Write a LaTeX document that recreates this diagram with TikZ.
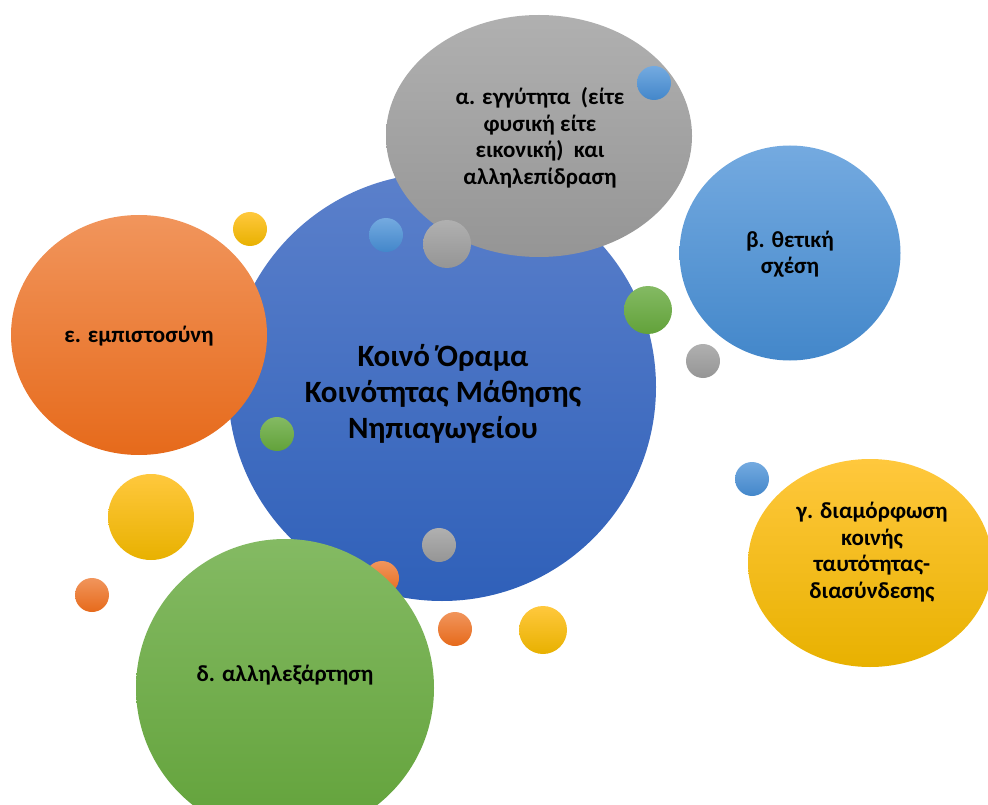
\documentclass[tikz,border=0pt]{standalone}
\usepackage{fontspec}
\setmainfont{Carlito}
\usetikzlibrary{shapes.geometric}
\definecolor{BlueT}{HTML}{5B80CB}
\definecolor{BlueM}{HTML}{4470C4}
\definecolor{BlueB}{HTML}{2F60B9}
\definecolor{GrayT}{HTML}{B0B0B0}
\definecolor{GrayM}{HTML}{A3A3A3}
\definecolor{GrayB}{HTML}{959595}
\definecolor{LBlueT}{HTML}{74AAE0}
\definecolor{LBlueM}{HTML}{5B9BD5}
\definecolor{LBlueB}{HTML}{4387CA}
\definecolor{OrT}{HTML}{F1955C}
\definecolor{OrM}{HTML}{F47F2E}
\definecolor{OrB}{HTML}{E66A1B}
\definecolor{YeT}{HTML}{FFC83D}
\definecolor{YeM}{HTML}{FFC000}
\definecolor{YeB}{HTML}{E8B100}
\definecolor{GrT}{HTML}{84BA63}
\definecolor{GrM}{HTML}{70AD47}
\definecolor{GrB}{HTML}{62A23A}
\begin{document}
\begin{tikzpicture}[x=1pt,y=-1pt,
  bubble/.style={circle, inner sep=0pt, draw=none, minimum size=#1},
  oval/.style={ellipse, inner sep=0pt, draw=none},
  fblue/.style={top color=BlueT, middle color=BlueM, bottom color=BlueB},
  fgray/.style={top color=GrayT, middle color=GrayM, bottom color=GrayB},
  flblue/.style={top color=LBlueT, middle color=LBlueM, bottom color=LBlueB},
  forange/.style={top color=OrT, middle color=OrM, bottom color=OrB},
  fyellow/.style={top color=YeT, middle color=YeM, bottom color=YeB},
  fgreen/.style={top color=GrT, middle color=GrM, bottom color=GrB},
  lbl/.style={align=center, inner sep=0pt, text=black, font=\bfseries\fontsize{23}{26.5}\selectfont},
  mainlbl/.style={align=center, inner sep=0pt, text=black, font=\bfseries\fontsize{31}{36}\selectfont}]
\useasboundingbox (0,0) rectangle (988,805);
\clip (0,0) rectangle (988,805);
% back layer
\node[bubble=428pt, fblue] (core) at (442,387) {};
\node[oval, fgray, minimum width=306pt, minimum height=242pt] (alpha) at (539,136) {};
\node[bubble=34pt, flblue] (s1) at (654,83) {};
\node[bubble=34pt, flblue] (s2) at (386,235) {};
\node[bubble=48pt, fgray] (s3) at (447,244) {};
\node[oval, forange, minimum width=256pt, minimum height=240pt] (eps) at (139,335) {};
\node[bubble=34pt, fyellow] (s4) at (250,229) {};
\node[bubble=34pt, fgreen] (s5) at (277,434) {};
\node[bubble=34pt, fgray] (s6) at (439,545) {};
\node[bubble=34pt, forange] (s7) at (382,578) {};
\node[bubble=298pt, fgreen] (delta) at (285,688) {};
\node[bubble=86pt, fyellow] (s8) at (151,517) {};
\node[bubble=34pt, forange] (s9) at (92,595) {};
\node[bubble=34pt, forange] (s10) at (455,629) {};
\node[bubble=48pt, fyellow] (s11) at (543,630) {};
\node[oval, flblue, minimum width=221pt, minimum height=215pt] (beta) at (790,253) {};
\node[bubble=48pt, fgreen] (s12) at (648,310) {};
\node[bubble=34pt, fgray] (s13) at (703,361) {};
\node[oval, fyellow, minimum width=244pt, minimum height=208pt] (gamma) at (870,563) {};
\node[bubble=34pt, flblue] (s14) at (752,479) {};
% labels
\node[mainlbl] (tcore) at (443,394) {Κοινό Όραμα\\Κοινότητας Μάθησης\\Νηπιαγωγείου};
\node[lbl] (talpha) at (540,138) {α. εγγύτητα\ \ (είτε\\φυσική είτε\\εικονική)\ \ και\\αλληλεπίδραση};
\node[lbl] (tbeta) at (790,254) {β. θετική\\σχέση};
\node[lbl] (tgamma) at (872,552) {γ. διαμόρφωση\\κοινής\\ταυτότητας-\\διασύνδεσης};
\node[lbl] (tdelta) at (285,675) {δ. αλληλεξάρτηση};
\node[lbl] (teps) at (139,336) {ε. εμπιστοσύνη};
\end{tikzpicture}
\end{document}
